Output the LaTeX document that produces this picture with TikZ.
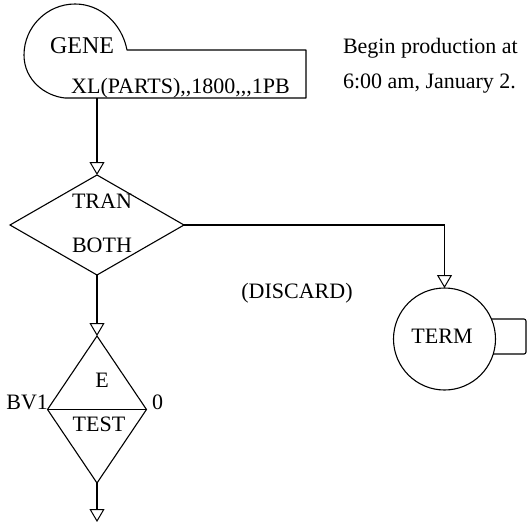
\documentclass[tikz,border=0pt]{standalone}
\usepackage{fontspec}
\setmainfont{Liberation Serif}
\usetikzlibrary{arrows.meta,shapes.geometric,calc}
\tikzset{
  txt/.style={font=\fontsize{22}{26}\selectfont, inner sep=0pt, outer sep=0pt},
  shp/.style={draw=black, line width=1.1pt},
  conn/.style={draw=black, line width=1.1pt},
  opentip/.style={-{Triangle[open, width=15pt, length=13pt, line width=1pt]}},
}
\begin{document}
\begin{tikzpicture}[x=1pt,y=-1pt]
\useasboundingbox (0,0) rectangle (527,525);
% GENERATE block
\coordinate (gA) at (65,98);
\coordinate (gB) at (127,50);
\path[shp, line join=round] (gA) .. controls (45,96) and (24,80) .. (24,55)
   .. controls (24,27) and (47,4) .. (75,4)
   .. controls (101,4) and (122,24) .. (gB)
   -- (306,50) -- (306,98) -- cycle;
\coordinate (gout) at (97,98);
\node[txt, anchor=base, font=\fontsize{24}{28}\selectfont] (gene) at (82,53) {GENE};
\node[txt, anchor=base] (gops) at (180.5,93) {XL(PARTS),{},{}1800,{},{},{}1PB};
\node[txt, anchor=base west] (c1) at (343,53) {Begin production at};
\node[txt, anchor=base west] (c2) at (343,88) {6:00 am, January 2.};
% TRANSFER diamond
\node[diamond, shp, minimum width=174pt, minimum height=100pt, inner sep=0pt, outer sep=0pt] (tran) at (97,225) {};
\node[txt, anchor=base] (trant) at (102,208) {TRAN};
\node[txt, anchor=base] (tranb) at (102,252) {BOTH};
% TERMINATE
\node[circle, shp, minimum size=102pt, inner sep=0pt, outer sep=0pt] (term) at (444.5,339) {};
\node[txt, anchor=base] (termt) at (442,343) {TERM};
\path[shp, rounded corners=2pt] (491.4,319) -- (526,319) -- (526,354) -- (493.2,354);
\node[txt, anchor=base] (disc) at (297,298) {(DISCARD)};
% TEST diamond
\node[diamond, shp, minimum width=99pt, minimum height=147pt, inner sep=0pt, outer sep=0pt] (test) at (97,409.5) {};
\draw[shp] (test.west) -- (test.east);
\node[txt, anchor=base] (teste) at (102,387) {E};
\node[txt, anchor=base] (testt) at (99,431) {TEST};
\node[txt, anchor=base east] (bv) at (48,409) {BV1};
\node[txt, anchor=base west] (zero) at (152,409) {0};
\coordinate (tout) at (97,522);
% connectors
\draw[conn, opentip] (gout) -- (tran.north);
\draw[conn, opentip] (tran.east) -- (tran.east -| term.north) -- (term.north);
\draw[conn, opentip] (tran.south) -- (test.north);
\draw[conn, opentip] (test.south) -- (tout);
\end{tikzpicture}
\end{document}
